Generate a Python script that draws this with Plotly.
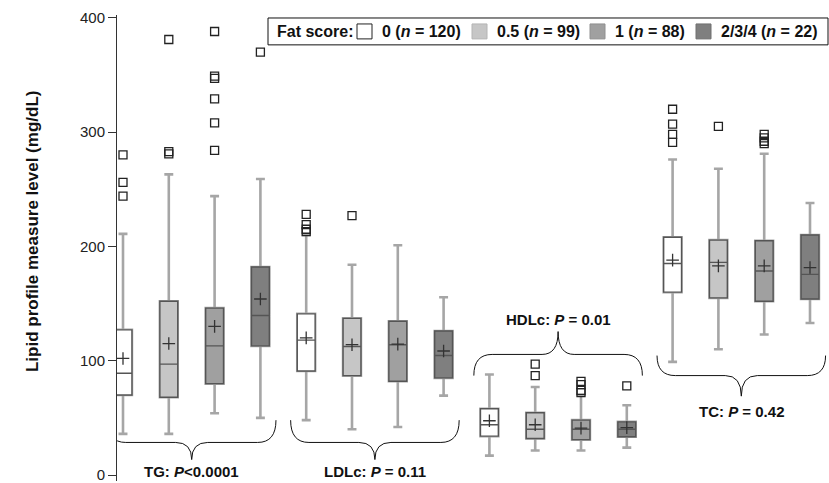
import plotly.graph_objects as go

# ---------------- data ----------------
lipids = ["TG", "LDLc", "HDLc", "TC"]
p_texts = ["<i>P</i>&lt;0.0001", "<i>P</i> = 0.11", "<i>P</i> = 0.01", "<i>P</i> = 0.42"]
fat_labels = ["0", "0.5", "1", "2/3/4"]
fat_n = [120, 99, 88, 22]

# each row: one fat score level; columns: TG, LDLc, HDLc, TC
q1 = [[70, 91, 34, 160],
      [68, 87, 32, 155],
      [80, 82, 31, 152],
      [113, 85, 33.5, 154]]
median = [[89, 118, 44, 185],
          [97, 112.5, 40, 186],
          [113, 114, 40, 178.5],
          [139.5, 104.5, 40, 175.5]]
q3 = [[127, 141, 58, 208],
      [152, 137, 54.5, 205.5],
      [146, 134.5, 48, 205],
      [182, 126, 46.5, 210]]
lower = [[36, 48, 17, 99],
         [36, 40, 21.5, 110],
         [54, 42, 21.5, 123],
         [50, 69.5, 24, 133]]
upper = [[211, 210, 88, 276],
         [263, 184, 77, 268],
         [244, 201, 70, 281],
         [259, 155.5, 61, 238]]
means = [[102, 120, 47.5, 188],
         [115, 114, 44, 183],
         [130, 114.5, 41, 183],
         [154, 108.5, 41.5, 181.5]]
outliers = [
    [[280, 256, 244], [228, 219, 215, 213], [], [320, 307, 298, 291]],
    [[381, 283, 281], [227], [97, 87], [305]],
    [[388, 349, 347, 329, 308, 284], [], [82, 79, 74, 72], [298, 295, 292, 290]],
    [[370], [], [78], []],
]
y_ticks = [0, 100, 200, 300, 400]

# ---------------- styling ----------------
FONT = "Arial, 'Liberation Sans', Helvetica, sans-serif"
fills = ["#ffffff", "#c6c6c6", "#a0a0a0", "#7f7f7f"]
swatch_lines = ["#222222", "#b4b4b4", "#909090", "#707070"]
W, H = 829, 483
ML, MR, MT, MB = 117, 0, 15, 0
PW, PH = W - ML - MR, H - MT - MB

def pxp(px):  # pixel x -> paper
    return (px - ML) / PW

def pyp(py):  # pixel y -> paper
    return (H - MB - py) / PH

fig = go.Figure()

# whiskers (light grey)
for k in range(4):
    xs = [4 * g + k for g in range(4)]
    fig.add_trace(go.Box(
        x=xs, q1=q1[k], median=median[k], q3=q3[k],
        lowerfence=lower[k], upperfence=upper[k],
        width=0.39, whiskerwidth=0.5,
        line=dict(color="#a6a6a6", width=2.6),
        fillcolor=fills[k], showlegend=False, hoverinfo="skip"))

# boxes (dark outline)
for k in range(4):
    xs = [4 * g + k for g in range(4)]
    fig.add_trace(go.Box(
        x=xs, q1=q1[k], median=median[k], q3=q3[k],
        lowerfence=q1[k], upperfence=q3[k],
        width=0.39, whiskerwidth=0,
        line=dict(color="#555555", width=1.4),
        fillcolor=fills[k], showlegend=False, hoverinfo="skip"))

# means (+)
for k in range(4):
    xs = [4 * g + k for g in range(4)]
    fig.add_trace(go.Scatter(
        x=xs, y=means[k], mode="markers", showlegend=False, hoverinfo="skip",
        marker=dict(symbol="cross-thin", size=9,
                    line=dict(width=1.3, color="#333333"))))

# outliers (open squares)
ox, oy = [], []
for k in range(4):
    for g in range(4):
        for v in outliers[k][g]:
            ox.append(4 * g + k)
            oy.append(v)
fig.add_trace(go.Scatter(
    x=ox, y=oy, mode="markers", showlegend=False, hoverinfo="skip",
    marker=dict(symbol="square-open", size=8, color="#222222",
                line=dict(width=1.3, color="#222222"))))

# ---------------- braces + labels ----------------
def brace(x0, x1, tip, flat, point, rt=0.4, rc=0.35):
    xc = (x0 + x1) / 2
    return (f"M {x0},{tip} Q {x0},{flat} {x0 + rt},{flat} "
            f"L {xc - rc},{flat} Q {xc},{flat} {xc},{point} "
            f"Q {xc},{flat} {xc + rc},{flat} "
            f"L {x1 - rt},{flat} Q {x1},{flat} {x1},{tip}")

# vertical placement of each brace (tip, flat, point, label) in axis units
brace_y = [(48, 28.5, 13.5, 3.5),
           (48, 28.5, 13.5, 3.5),
           (87, 105.5, 125.5, 136),
           (104.5, 87, 69, 56)]
shapes = []
annotations = []
for g in range(4):
    x0 = 4 * g - 0.34
    x1 = 4 * g + 3 + 0.34
    tip, flat, point, lab = brace_y[g]
    shapes.append(dict(type="path", xref="x", yref="y",
                       path=brace(x0, x1, tip, flat, point),
                       line=dict(color="#111111", width=1)))
    annotations.append(dict(x=(x0 + x1) / 2, y=lab, xref="x", yref="y",
                            text=f"<b>{lipids[g]}: {p_texts[g]}</b>",
                            showarrow=False, xanchor="center", yanchor="middle",
                            font=dict(family=FONT, size=15, color="#111111")))

# y-axis title
annotations.append(dict(x=pxp(32), y=pyp(232), xref="paper", yref="paper",
                        text="<b>Lipid profile measure level (mg/dL)</b>",
                        textangle=-90, showarrow=False,
                        xanchor="center", yanchor="middle",
                        font=dict(family=FONT, size=17, color="#111111")))

# ---------------- manual legend ----------------
leg_top, leg_bot = 18, 45
leg_mid = (leg_top + leg_bot) / 2
shapes.append(dict(type="rect", xref="paper", yref="paper",
                   x0=pxp(268), x1=pxp(828), y0=pyp(leg_bot), y1=pyp(leg_top),
                   line=dict(color="#111111", width=1), fillcolor="white"))
annotations.append(dict(x=pxp(275), y=pyp(leg_mid), xref="paper", yref="paper",
                        text="<b>Fat score:</b>", showarrow=False,
                        xanchor="left", yanchor="middle",
                        font=dict(family=FONT, size=16, color="#111111")))
swatch_x = [357, 472, 590, 696]
for k in range(4):
    sx = swatch_x[k]
    shapes.append(dict(type="rect", xref="paper", yref="paper",
                       x0=pxp(sx), x1=pxp(sx + 15),
                       y0=pyp(leg_mid + 7.5), y1=pyp(leg_mid - 7.5),
                       line=dict(color=swatch_lines[k], width=1),
                       fillcolor=fills[k]))
    annotations.append(dict(x=pxp(sx + 23), y=pyp(leg_mid), xref="paper", yref="paper",
                            text=f"<b>{fat_labels[k]} (<i>n</i> = {fat_n[k]})</b>",
                            showarrow=False, xanchor="left", yanchor="middle",
                            font=dict(family=FONT, size=16, color="#111111")))

# ---------------- layout ----------------
px_per_unit_x = 45.8
x_min = -6 / px_per_unit_x
x_max = x_min + PW / px_per_unit_x
px_per_unit_y = 1.148
y_min = -(H - MB - 477) / px_per_unit_y
y_max = y_min + PH / px_per_unit_y

fig.update_layout(
    width=W, height=H,
    margin=dict(l=ML, r=MR, t=MT, b=MB, pad=0),
    plot_bgcolor="white", paper_bgcolor="white",
    boxmode="overlay",
    font=dict(family=FONT, size=15, color="#222222"),
    xaxis=dict(range=[x_min, x_max], visible=False, fixedrange=True),
    yaxis=dict(range=[y_min, y_max], tickvals=y_ticks, ticktext=[str(v) for v in y_ticks],
               ticks="outside", ticklen=8, tickwidth=1, tickcolor="#333333",
               ticklabeloverflow="allow",
               showline=True, linecolor="#333333", linewidth=1,
               showgrid=False, zeroline=False,
               tickfont=dict(family=FONT, size=15, color="#222222")),
    shapes=shapes, annotations=annotations,
)

fig.write_html("out.html", config={"displayModeBar": False},
               post_script="document.body.style.margin='0';document.body.style.padding='0';")
